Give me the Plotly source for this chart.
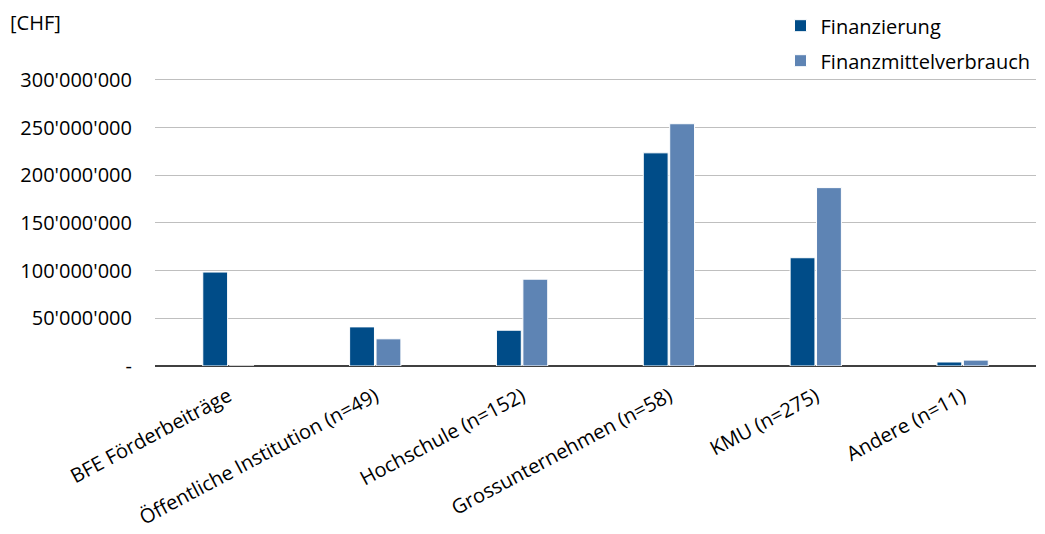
import plotly.graph_objects as go

categories = ["BFE Förderbeiträge", "Öffentliche Institution (n=49)", "Hochschule (n=152)",
              "Grossunternehmen (n=58)", "KMU (n=275)", "Andere (n=11)"]
finanzierung = [98.5e6, 41e6, 37.5e6, 223.5e6, 113.5e6, 4.2e6]
finanzmittelverbrauch = [0, 28.5e6, 91e6, 254e6, 187e6, 6.2e6]
tick_vals = [0, 50e6, 100e6, 150e6, 200e6, 250e6, 300e6]
tick_text = ["-", "50'000'000", "100'000'000", "150'000'000", "200'000'000", "250'000'000", "300'000'000"]

font = "Open Sans"
fig = go.Figure()
fig.add_trace(go.Bar(x=categories, y=finanzierung, name="Finanzierung", legendgroup="a",
                     marker=dict(color="#004c88", line=dict(color="white", width=1))))
fig.add_trace(go.Bar(x=categories, y=finanzmittelverbrauch, name="Finanzmittelverbrauch", legendgroup="b",
                     marker=dict(color="#5e84b4", line=dict(color="white", width=1))))

fig.update_layout(
    width=1045, height=534,
    margin=dict(l=147, r=17, t=69, b=176, autoexpand=False),
    paper_bgcolor="white", plot_bgcolor="white",
    barmode="group", bargap=0.64, bargroupgap=0.06,
    font=dict(family=font, size=20, color="#000000"),
    legend=dict(x=0.71, y=1.245, xanchor="left", yanchor="top",
                font=dict(family=font, size=20), bgcolor="rgba(0,0,0,0)",
                tracegroupgap=6),
    showlegend=True,
    annotations=[dict(text="[CHF]", x=-0.167, y=1.19, xref="paper", yref="paper",
                      xanchor="left", yanchor="middle", showarrow=False)],
)
fig.update_xaxes(tickangle=-28, showgrid=False, showline=False,
                 ticks="outside", ticklen=10, tickcolor="rgba(0,0,0,0)",
                 automargin=False, tickfont=dict(family=font, size=20))
fig.update_yaxes(range=[0, 303e6], tickvals=tick_vals, ticktext=tick_text,
                 showgrid=True, gridcolor="#bfbfbf", gridwidth=1,
                 zeroline=True, zerolinecolor="#404040", zerolinewidth=2,
                 showline=False, ticks="", ticklabelstandoff=22, automargin=False,
                 tickfont=dict(family=font, size=20))
fig.write_html("out.html")
